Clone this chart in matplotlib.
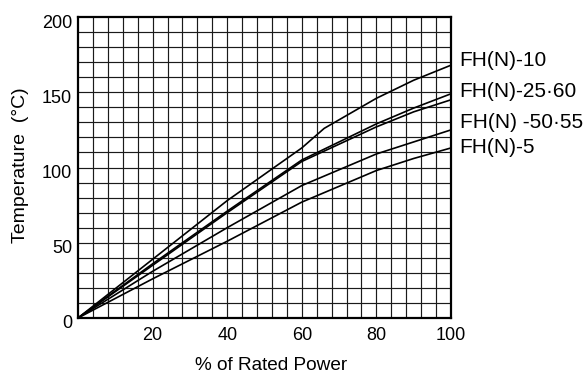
import matplotlib
matplotlib.use('Agg')
import matplotlib.pyplot as plt
import matplotlib.transforms as mtransforms
import numpy as np

plt.rcParams['font.family'] = ['Liberation Sans', 'DejaVu Sans']

# % of rated power vs temperature
power_10 = [0, 20, 40, 60, 66, 80, 90, 100]
temp_10 = [0, 39, 78, 113, 126, 146, 158, 168]

power = [0, 20, 40, 60, 80, 90, 100]
temp_25_60 = [0, 36, 71, 105, 129, 139.5, 149]
temp_50_55 = [0, 35, 70, 104, 127, 137, 145]
temp_a = [0, 31, 60, 88, 109, 117, 125]
temp_5 = [0, 26, 51, 77, 98, 106, 113]

labels = ['FH(N)-10', 'FH(N)-25·60', 'FH(N) -50·55', 'FH(N)-5']
label_y = [171.4, 150.2, 129.6, 113.6]

xticks = [20, 40, 60, 80, 100]
yticks = [0, 50, 100, 150, 200]

fig = plt.figure(figsize=(5.86, 3.72), dpi=100)
ax = fig.add_axes([0.1331, 0.1452, 0.6365, 0.809])

# grid: every 4 % across, every 10 degrees up
for gx in np.arange(4, 100, 4):
    ax.axvline(gx, color='0.1', lw=0.85, zorder=1)
for gy in np.arange(10, 200, 10):
    ax.axhline(gy, color='0.1', lw=0.85, zorder=1)

ax.plot(power_10, temp_10, color='black', lw=1.2, zorder=3)
ax.plot(power, temp_25_60, color='black', lw=1.2, zorder=3)
ax.plot(power, temp_50_55, color='black', lw=1.2, zorder=3)
ax.plot(power, temp_a, color='black', lw=1.2, zorder=3)
ax.plot(power, temp_5, color='black', lw=1.2, zorder=3)

for txt, y in zip(labels, label_y):
    ax.text(102.3, y, txt, fontsize=15, va='center', ha='left', clip_on=False)

ax.set_xlim(0, 100)
ax.set_ylim(0, 200)
ax.set_xticks(xticks)
ax.set_yticks(yticks)
ax.tick_params(length=0, labelsize=13)
ax.tick_params(axis='x', pad=6.5)
ax.tick_params(axis='y', pad=4.3)
# y tick labels sit a little below their grid line in the original
shift = mtransforms.ScaledTranslation(0, -4 / 100, fig.dpi_scale_trans)
for lbl in ax.get_yticklabels():
    lbl.set_transform(lbl.get_transform() + shift)
for s in ax.spines.values():
    s.set_linewidth(1.6)
    s.set_color('black')

ax.set_xlabel('% of Rated Power', fontsize=13.7)
ax.xaxis.set_label_coords(0.519, -0.128)
ax.set_ylabel('Temperature  (°C)', fontsize=14, va='center')
ax.yaxis.set_label_coords(-0.153, 0.508)

fig.savefig('out.png', dpi=100)
